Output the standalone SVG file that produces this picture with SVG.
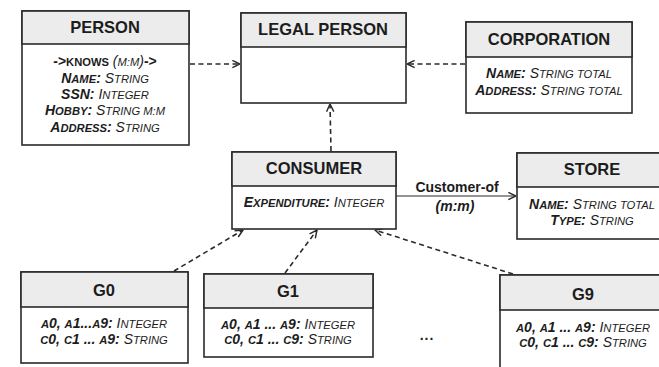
<svg xmlns="http://www.w3.org/2000/svg" width="659" height="367" viewBox="0 0 659 367">
<style>
.box{fill:#ffffff;stroke:#2a2a2a;stroke-width:1.6}
.hdr{fill:#ececec;stroke:#2a2a2a;stroke-width:1.6}
.ttl{font-family:"Liberation Sans",Arial,sans-serif;font-weight:bold;font-size:16.5px;fill:#1c1c1c;text-anchor:middle}
.at{font-family:"Liberation Sans",Arial,sans-serif;font-style:italic;font-size:14px;fill:#1c1c1c;text-anchor:middle}
.b{font-weight:bold}
.sc{font-size:11.2px}
.lbl{font-family:"Liberation Sans",Arial,sans-serif;font-weight:bold;font-size:14px;fill:#1c1c1c;text-anchor:middle}
.dash{fill:none;stroke:#2a2a2a;stroke-width:1.6;stroke-dasharray:5,3.5}
.solid{fill:none;stroke:#2a2a2a;stroke-width:1.2}
</style>
<defs>
<marker id="open" viewBox="0 0 10 10" refX="9.5" refY="5" markerWidth="9" markerHeight="9" markerUnits="userSpaceOnUse" orient="auto">
<path d="M1,1 L9.5,5 L1,9" fill="none" stroke="#2a2a2a" stroke-width="1.6"/>
</marker>
</defs>

<g id="connectors">
<line class="dash" x1="190" y1="64" x2="240" y2="64" marker-end="url(#open)"/>
<line class="dash" x1="465" y1="64" x2="407" y2="64" marker-end="url(#open)"/>
<line class="dash" x1="331" y1="151" x2="330" y2="104" marker-end="url(#open)"/>
<line class="solid" x1="396" y1="196" x2="516" y2="196" marker-end="url(#open)"/>
<text class="lbl" x="457" y="192">Customer-of</text>
<text class="lbl" x="455" y="211" font-style="italic">(m:m)</text>
<line class="dash" x1="174" y1="271" x2="243" y2="230" marker-end="url(#open)"/>
<line class="dash" x1="285" y1="273" x2="317" y2="230" marker-end="url(#open)"/>
<line class="dash" x1="513" y1="274" x2="375" y2="230" marker-end="url(#open)"/>
</g>

<g id="person">
<rect class="box" x="22" y="11" width="167" height="134"/>
<rect class="hdr" x="22" y="11" width="167" height="33"/>
<text class="ttl" x="105" y="33">PERSON</text>
<text class="at" x="105" y="66"><tspan class="b" font-style="normal">-&gt;<tspan class="sc">KNOWS</tspan> </tspan> (<tspan class="sc">M:M</tspan>)<tspan class="b" font-style="normal">-&gt;</tspan></text>
<text class="at" x="105" y="83"><tspan class="b">N<tspan class="sc">AME</tspan>:</tspan> S<tspan class="sc">TRING</tspan></text>
<text class="at" x="105" y="99"><tspan class="b">SSN:</tspan> I<tspan class="sc">NTEGER</tspan></text>
<text class="at" x="105" y="115"><tspan class="b">H<tspan class="sc">OBBY</tspan>:</tspan> S<tspan class="sc">TRING M:M</tspan></text>
<text class="at" x="105" y="132"><tspan class="b">A<tspan class="sc">DDRESS</tspan>:</tspan> S<tspan class="sc">TRING</tspan></text>
</g>

<g id="legal-person">
<rect class="box" x="241" y="13" width="165" height="90"/>
<rect class="hdr" x="241" y="13" width="165" height="34"/>
<text class="ttl" x="323" y="35">LEGAL PERSON</text>
</g>

<g id="corporation">
<rect class="box" x="466" y="22" width="166" height="91"/>
<rect class="hdr" x="466" y="22" width="166" height="35"/>
<text class="ttl" x="549" y="45">CORPORATION</text>
<text class="at" x="549" y="78"><tspan class="b">N<tspan class="sc">AME</tspan>:</tspan> S<tspan class="sc">TRING TOTAL</tspan></text>
<text class="at" x="549" y="95"><tspan class="b">A<tspan class="sc">DDRESS</tspan>:</tspan> S<tspan class="sc">TRING TOTAL</tspan></text>
</g>

<g id="consumer">
<rect class="box" x="232" y="152" width="164" height="77"/>
<rect class="hdr" x="232" y="152" width="164" height="34"/>
<text class="ttl" x="314" y="174">CONSUMER</text>
<text class="at" x="314" y="207"><tspan class="b">E<tspan class="sc">XPENDITURE</tspan>:</tspan> I<tspan class="sc">NTEGER</tspan></text>
</g>

<g id="store">
<rect class="box" x="517" y="153" width="150" height="86"/>
<rect class="hdr" x="517" y="153" width="150" height="34"/>
<text class="ttl" x="592" y="175">STORE</text>
<text class="at" x="592" y="209"><tspan class="b">N<tspan class="sc">AME</tspan>:</tspan> S<tspan class="sc">TRING TOTAL</tspan></text>
<text class="at" x="592" y="225"><tspan class="b">T<tspan class="sc">YPE</tspan>:</tspan> S<tspan class="sc">TRING</tspan></text>
</g>

<g id="g0">
<rect class="box" x="21" y="272" width="167" height="91"/>
<rect class="hdr" x="21" y="272" width="167" height="35"/>
<text class="ttl" x="104" y="296">G0</text>
<text class="at" x="104" y="328"><tspan class="b"><tspan class="sc">A</tspan>0, <tspan class="sc">A</tspan>1...<tspan class="sc">A</tspan>9:</tspan> I<tspan class="sc">NTEGER</tspan></text>
<text class="at" x="104" y="344"><tspan class="b"><tspan class="sc">C</tspan>0, <tspan class="sc">C</tspan>1 ... <tspan class="sc">A</tspan>9:</tspan> S<tspan class="sc">TRING</tspan></text>
</g>

<g id="g1">
<rect class="box" x="204" y="274" width="169" height="83"/>
<rect class="hdr" x="204" y="274" width="169" height="34"/>
<text class="ttl" x="288" y="297">G1</text>
<text class="at" x="288" y="329"><tspan class="b"><tspan class="sc">A</tspan>0, <tspan class="sc">A</tspan>1 ... <tspan class="sc">A</tspan>9:</tspan> I<tspan class="sc">NTEGER</tspan></text>
<text class="at" x="288" y="344"><tspan class="b"><tspan class="sc">C</tspan>0, <tspan class="sc">C</tspan>1 ... <tspan class="sc">C</tspan>9:</tspan> S<tspan class="sc">TRING</tspan></text>
</g>

<text id="ellipsis" class="lbl" x="427" y="340" font-size="22px" letter-spacing="1">...</text>

<g id="g9">
<rect class="box" x="500" y="275" width="170" height="100"/>
<rect class="hdr" x="500" y="275" width="170" height="35"/>
<text class="ttl" x="583" y="300">G9</text>
<text class="at" x="583" y="332"><tspan class="b"><tspan class="sc">A</tspan>0, <tspan class="sc">A</tspan>1 ... <tspan class="sc">A</tspan>9:</tspan> I<tspan class="sc">NTEGER</tspan></text>
<text class="at" x="583" y="347"><tspan class="b"><tspan class="sc">C</tspan>0, <tspan class="sc">C</tspan>1 ... <tspan class="sc">C</tspan>9:</tspan> S<tspan class="sc">TRING</tspan></text>
</g>
</svg>
